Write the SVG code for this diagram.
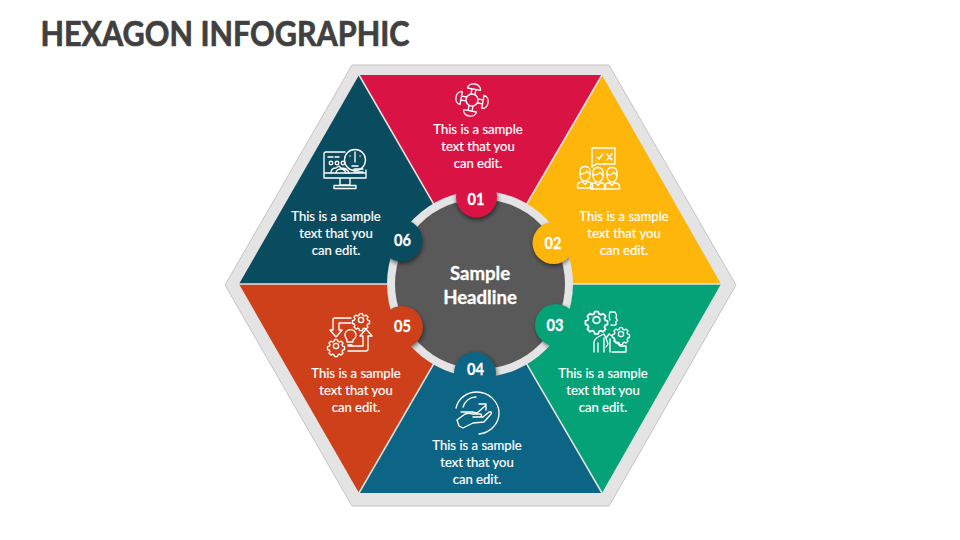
<svg xmlns="http://www.w3.org/2000/svg" width="960" height="540" viewBox="0 0 960 540">
<style>
text{font-family:"Lato","Carlito","Liberation Sans",sans-serif;text-anchor:middle}
.t{font-size:13.1px;fill:#fff;stroke:#fff;stroke-width:.2}
.n{font-size:17.5px;fill:#fff;font-weight:700;stroke:#fff;stroke-width:.3}
.h{font-size:18.6px;fill:#fff;font-weight:700;stroke:#fff;stroke-width:.3}
.i{fill:none;stroke:#fff;stroke-width:1.35;stroke-linejoin:round;stroke-linecap:round}
.sep{fill:none;stroke:#e4e4e4;stroke-width:1.5}
.sh{fill:#000;fill-opacity:.5;filter:url(#b)}
</style>
<defs>
<filter id="b" x="-40%" y="-40%" width="180%" height="180%"><feGaussianBlur stdDeviation="2.2"/></filter>
<clipPath id="ringclip"><circle cx="480" cy="284" r="93"/></clipPath>
<g id="gear"><circle r="2.6"/><path d="M-1.400-6.400h2.800l.5 1.700 1.500.7 1.600-.9 2 2-.9 1.600.7 1.500 1.700.5v2.800l-1.700.5-.7 1.500.9 1.600-2 2-1.600-.9-1.500.7-.5 1.700h-2.800l-.5-1.700-1.500-.7-1.600.9-2-2 .9-1.600-.7-1.500-1.700-.5v-2.800l1.700-.5.7-1.500-.9-1.600 2-2 1.600.9 1.500-.7z"/></g>
<g id="head"><path d="M-5-5c0-6 10-6 10 0v4c0 3-2 6-5 6s-5-3-5-6z"/><path d="M-5-2c3 0 6-1 7-3 1 2 2 3 3 3M-7.500 12V9c0-2 3-3 5-3.500l2.500 3 2.500-3c2 .5 5 1.500 5 3.500v3z"/></g>
<g id="arm"><path d="M-2-6V-11M2-6V-11M-6.500-11h13c0-7-13-7-13 0z"/></g>
</defs>
<title>Hexagon Infographic</title>
<text x="225" y="45.500" style="font-size:34px;font-weight:700;fill:#404040;stroke:#404040;stroke-width:.7" textLength="369" lengthAdjust="spacingAndGlyphs">HEXAGON INFOGRAPHIC</text>
<g id="hexagon-frame"><polygon points="225,285 352,65 609,65 736,285 609,506 352,506" fill="#e4e4e4" stroke="#c4c4c4" stroke-width="1"/></g>
<g id="segment-01"><polygon points="359,75 602,75 480,284" fill="#d91444"/></g>
<g id="segment-02"><polygon points="602,75 721,284 480,284" fill="#ffb60b"/></g>
<g id="segment-03"><polygon points="721,284 602,493 480,284" fill="#05a277"/></g>
<g id="segment-04"><polygon points="602,493 359,493 480,284" fill="#0d6585"/></g>
<g id="segment-05"><polygon points="359,493 239,284 480,284" fill="#cd401a"/></g>
<g id="segment-06"><polygon points="239,284 359,75 480,284" fill="#0a4c5f"/></g>
<g id="connectors">
<path class="sep" d="M359 75L480 284L602 75M721 284H480L602 493M359 493L480 284H239"/>
</g>
<g id="center">
<circle cx="480" cy="284" r="93" fill="#e4e4e4"/>
<circle cx="480" cy="284" r="85" fill="#595959"/>
<g clip-path="url(#ringclip)">
<circle class="sh" cx="477" cy="199" r="21"/>
<circle class="sh" cx="554" cy="245" r="21"/>
<circle class="sh" cx="557" cy="327" r="21"/>
<circle class="sh" cx="476" cy="374" r="21"/>
<circle class="sh" cx="403" cy="329" r="21"/>
<circle class="sh" cx="402" cy="243" r="21"/>
</g>
<text class="h" x="480" y="280">Sample</text>
<text class="h" x="480" y="303.500">Headline</text>
</g>
<g id="node-01">
<circle cx="476.500" cy="197" r="20.500" fill="#d91444"/>
<text class="n" x="476" y="205" textLength="17" lengthAdjust="spacingAndGlyphs">01</text>
<g class="i" transform="translate(472 100)"><circle r="6"/><use href="#arm" transform="rotate(10)"/><use href="#arm" transform="rotate(100)"/><use href="#arm" transform="rotate(190)"/><use href="#arm" transform="rotate(280)"/></g>
<text class="t"><tspan x="478" y="134">This is a sample</tspan><tspan x="478" y="151">text that you</tspan><tspan x="478" y="168">can edit.</tspan></text>
</g>
<g id="node-02">
<circle cx="553.500" cy="243" r="21" fill="#ffb60b"/>
<text class="n" x="553" y="249" textLength="17" lengthAdjust="spacingAndGlyphs">02</text>
<g class="i"><path d="M592 148h23v16h-19l-4 3z"/><path d="M597 157l2 2 4-5M607 154l5 6M612 154l-5 6"/>
<use href="#head" x="585" y="176"/><use href="#head" x="598" y="177"/><use href="#head" x="612" y="177"/></g>
<text class="t"><tspan x="624" y="221">This is a sample</tspan><tspan x="624" y="238">text that you</tspan><tspan x="624" y="255">can edit.</tspan></text>
</g>
<g id="node-03">
<circle cx="556" cy="325" r="21" fill="#05a277"/>
<text class="n" x="555" y="331" textLength="17" lengthAdjust="spacingAndGlyphs">03</text>
<g class="i"><use href="#gear" transform="translate(596.500 320) scale(1.300)"/><path d="M610 312h5l1.500 3-.5 3 1.500 2.500-1.500 1v3c-1 1-3 1-5 .5M610 312c-1 2-1 6 0 8"/><use href="#gear" x="621" y="334"/><path d="M594 352v-10c0-3 3-5 10-8l2 4 3-4 3 2M598 352v-9M604 338v14M606 338l2 6-2 3M610 339v13M612 352h14v-6h-6l-3-3-3-3"/></g>
<text class="t"><tspan x="603" y="378">This is a sample</tspan><tspan x="603" y="395">text that you</tspan><tspan x="603" y="412">can edit.</tspan></text>
</g>
<g id="node-04">
<circle cx="475" cy="373" r="21" fill="#0d6585"/>
<text class="n" x="475.500" y="375" textLength="17" lengthAdjust="spacingAndGlyphs">04</text>
<g class="i"><path d="M456 408c2-9 10-16 21-16 12 0 22 10 22 21 0 11-9 20-20 21"/><path d="M463 407c2-6 7-10 13-10M461 412h11l5 1 8-7M479 404h7v6"/><path d="M457 420l8-6c3-1 5-1 7 0h8c2 0 2 3 0 3h-7 10l6-5c2-1 3 1 2 2l-7 8-11 1-10 5-4-2z"/></g>
<text class="t"><tspan x="477" y="450">This is a sample</tspan><tspan x="477" y="467">text that you</tspan><tspan x="477" y="484">can edit.</tspan></text>
</g>
<g id="node-05">
<circle cx="402" cy="327" r="21" fill="#cd401a"/>
<text class="n" x="402.500" y="332" textLength="17" lengthAdjust="spacingAndGlyphs">05</text>
<g class="i"><use href="#gear" x="361" y="320"/><use href="#gear" x="336" y="346"/><path d="M351 318h-16c-1 0-2 1-2 2v10h-3l6 7 6-7h-3v-7h12M348 351h18c1 0 2-1 2-2v-13h4l-6-7-6 7h3v10h-15"/><path d="M345 336a5.500 5.500 0 1 1 8 4v2h-6v-2zM348 345h4"/></g>
<text class="t"><tspan x="356" y="378">This is a sample</tspan><tspan x="356" y="395">text that you</tspan><tspan x="356" y="412">can edit.</tspan></text>
</g>
<g id="node-06">
<circle cx="401.500" cy="240.500" r="21" fill="#0a4c5f"/>
<text class="n" x="402.500" y="246" textLength="17" lengthAdjust="spacingAndGlyphs">06</text>
<g class="i"><path d="M345 152h-19c-1 0-2 1-2 2v24h42v-8M324 173h42M340 178v7h10v-7M334 188.500h22v-3h-22z"/><circle cx="355" cy="160" r="10.500"/><path d="M355 152v10M352 166h6M350 156h.1M360 156h.1"/><circle cx="331" cy="163" r="1.800"/><circle cx="337" cy="163" r="1.800"/><circle cx="343" cy="163" r="1.800"/><path d="M328 157h5M335 157h4"/><path d="M331 173c0-3 2-5 5-5l3-2 2 2c4 0 7 2 8 5M336 173c0-3 3-4 5-4s4 1 5 4M354 172h9M354 169h9"/></g>
<text class="t"><tspan x="336" y="221">This is a sample</tspan><tspan x="336" y="238">text that you</tspan><tspan x="336" y="255">can edit.</tspan></text>
</g>
</svg>
